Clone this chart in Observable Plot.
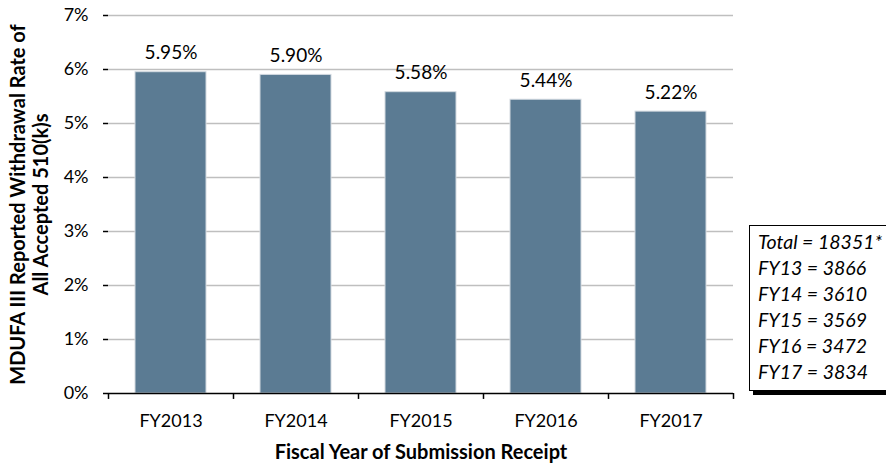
<!DOCTYPE html>
<html>
<head>
<meta charset="utf-8">
<script src="https://cdn.jsdelivr.net/npm/d3@7"></script>
<script src="https://cdn.jsdelivr.net/npm/@observablehq/plot@0.6"></script>
<style>
  body { margin: 0; background: #fff; }
  #wrap { position: relative; width: 886px; height: 468px; font-family: Lato, "Open Sans", sans-serif; }
  #legend {
    position: absolute; left: 749px; top: 225px; width: 124px;
    border: 1.5px solid #000; box-shadow: 4px 4px 0 #000; background: #fff;
    padding: 3px 6px 5px 8px; font-style: italic; font-size: 19.5px; line-height: 26px; color: #000;
    white-space: nowrap;
  }
</style>
</head>
<body>
<div id="wrap"></div>
<script>
const categories = ["FY2013", "FY2014", "FY2015", "FY2016", "FY2017"];
const rates = [0.0595, 0.0590, 0.0558, 0.0544, 0.0522];
const rateLabels = ["5.95%", "5.90%", "5.58%", "5.44%", "5.22%"];
const yTicks = [0, 0.01, 0.02, 0.03, 0.04, 0.05, 0.06, 0.07];
const legendLines = ["Total = 18351*", "FY13 = 3866", "FY14 = 3610", "FY15 = 3569", "FY16 = 3472", "FY17 = 3834"];
const yTitle = "MDUFA III Reported Withdrawal Rate of\nAll Accepted 510(k)s";
const xTitle = "Fiscal Year of Submission Receipt";

const data = categories.map((c, i) => ({cat: c, rate: rates[i], label: rateLabels[i]}));
const step = 125;

const chart = Plot.plot({
  width: 886,
  height: 468,
  marginLeft: 108,
  marginRight: 153,
  marginTop: 15,
  marginBottom: 75,
  style: {fontFamily: "Lato, 'Open Sans', sans-serif", fontSize: "18px", color: "#000", background: "#fff"},
  x: {domain: categories, paddingInner: 0.43, paddingOuter: 0.215, axis: null},
  y: {domain: [0, 0.07], axis: null},
  marks: [
    Plot.ruleY(yTicks.filter(d => d > 0), {stroke: "#bfbfbf", strokeWidth: 1.3}),
    Plot.barY(data, {x: "cat", y: "rate", fill: "#5b7b93", stroke: "#d3dae0", strokeWidth: 1}),
    Plot.text(data, {x: "cat", y: "rate", text: "label", dy: -19, fontSize: 19, fill: "#000"}),
    Plot.axisX({tickSize: 0, tickPadding: 21, fontSize: 18, label: null}),
    Plot.ruleX(categories, {x: d => d, dx: -step / 2, y1: 0, y2: -0.0011, stroke: "#000", strokeWidth: 1.5}),
    Plot.ruleX([categories[categories.length - 1]], {x: d => d, dx: step / 2, y1: 0, y2: -0.0011, stroke: "#000", strokeWidth: 1.5}),
    Plot.axisY({ticks: yTicks, tickFormat: d => Math.round(d * 100) + "%", tickSize: 5, tickPadding: 15, fontSize: 18, strokeWidth: 1.5, label: null}),
    Plot.ruleX([0], {frameAnchor: "left", stroke: "#000", strokeWidth: 1.5}),
    Plot.ruleY([0], {stroke: "#000", strokeWidth: 1.5}),
    Plot.text([yTitle], {frameAnchor: "left", textAnchor: "middle", lineAnchor: "middle", rotate: -90, dx: -79.5, fontWeight: "bold", fontSize: 20, lineHeight: 1.15, text: d => d, fill: "#000"}),
    Plot.text([xTitle], {frameAnchor: "bottom", textAnchor: "middle", lineAnchor: "middle", dy: 59, fontWeight: "bold", fontSize: 20, text: d => d, fill: "#000"})
  ]
});

const wrap = document.getElementById("wrap");
wrap.appendChild(chart);
const legend = document.createElement("div");
legend.id = "legend";
legendLines.forEach(t => { const d = document.createElement("div"); d.textContent = t; legend.appendChild(d); });
wrap.appendChild(legend);
</script>
</body>
</html>
